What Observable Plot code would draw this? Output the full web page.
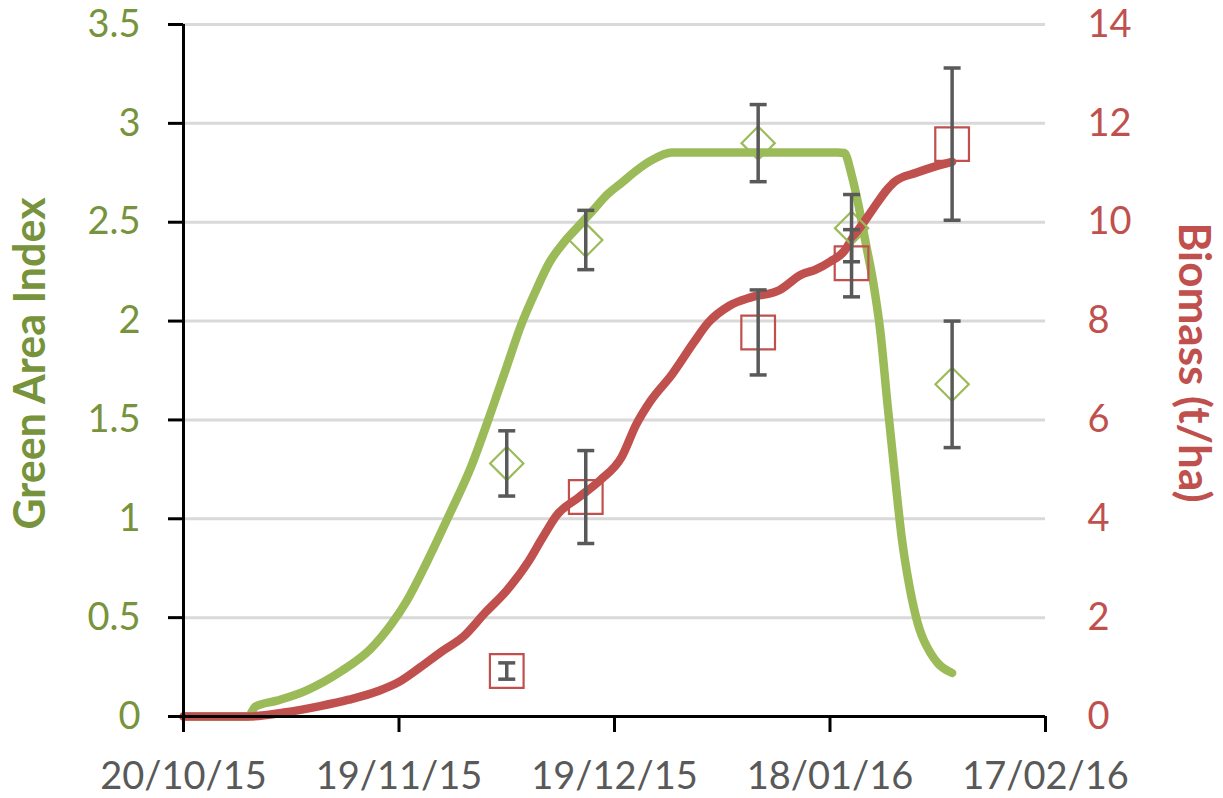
<!DOCTYPE html>
<html><head><meta charset="utf-8">
<script src="https://cdn.jsdelivr.net/npm/d3@7"></script>
<script src="https://cdn.jsdelivr.net/npm/@observablehq/plot@0.6"></script>
<style>body{margin:0;background:#fff;} #chart{width:1223px;height:798px;}</style>
</head><body><div id="chart"></div>
<script>
// ---- data ----
const xTicks = ["2015-10-20", "2015-11-19", "2015-12-19", "2016-01-18", "2016-02-17"];
const gaiTicks = [0, 0.5, 1, 1.5, 2, 2.5, 3, 3.5];
const biomassTicks = [0, 2, 4, 6, 8, 10, 12, 14];

// simulated Green Area Index curve
const gaiCurveDates = ["2015-10-20","2015-10-29","2015-10-30","2015-11-02","2015-11-06","2015-11-11","2015-11-15","2015-11-18","2015-11-20","2015-11-23","2015-11-26","2015-11-29","2015-12-02","2015-12-04","2015-12-06","2015-12-08","2015-12-10","2015-12-12","2015-12-14","2015-12-16","2015-12-18","2015-12-20","2015-12-22","2015-12-24","2015-12-27","2016-01-19","2016-01-20","2016-01-21","2016-01-22","2016-01-23","2016-01-24","2016-01-25","2016-01-26","2016-01-27","2016-01-28","2016-01-29","2016-01-30","2016-02-01","2016-02-02","2016-02-04"];
const gaiCurveValues = [0,0,0.05,0.08,0.13,0.23,0.34,0.47,0.58,0.79,1.02,1.26,1.56,1.77,1.98,2.15,2.30,2.40,2.48,2.56,2.64,2.70,2.76,2.81,2.853,2.853,2.85,2.74,2.58,2.39,2.2,1.95,1.58,1.23,0.9,0.67,0.5,0.32,0.27,0.22];

// simulated biomass curve (t/ha)
const biomassCurveDates = ["2015-10-20","2015-10-29","2015-11-03","2015-11-08","2015-11-12","2015-11-16","2015-11-19","2015-11-22","2015-11-25","2015-11-28","2015-12-01","2015-12-04","2015-12-07","2015-12-09","2015-12-11","2015-12-14","2015-12-17","2015-12-20","2015-12-22","2015-12-24","2015-12-27","2015-12-30","2016-01-01","2016-01-04","2016-01-07","2016-01-11","2016-01-14","2016-01-16","2016-01-18","2016-01-20","2016-01-21","2016-01-23","2016-01-24","2016-01-26","2016-01-27","2016-01-30","2016-02-01","2016-02-04"];
const biomassCurveValues = [0,0,0.08,0.21,0.34,0.51,0.7,1.0,1.32,1.62,2.1,2.55,3.13,3.62,4.08,4.43,4.78,5.25,5.9,6.38,6.92,7.56,7.96,8.31,8.48,8.63,8.94,9.04,9.2,9.42,9.65,10.06,10.27,10.67,10.82,11.0,11.1,11.22];

// observations
const obsDates = ["2015-12-04","2015-12-15","2016-01-08","2016-01-21","2016-02-04"];
const gaiObs = [1.28, 2.41, 2.90, 2.47, 1.68];
const gaiErr = [0.165, 0.15, 0.195, 0.17, 0.32];
const biomassObs = [0.92, 4.44, 7.77, 9.17, 11.58];
const biomassErr = [0.165, 0.94, 0.86, 0.68, 1.54];

// ---- build ----
const parse = d3.utcParse("%Y-%m-%d");
const ratio = biomassTicks[biomassTicks.length - 1] / gaiTicks[gaiTicks.length - 1];
const gaiCurve = gaiCurveDates.map((d, i) => ({date: parse(d), v: gaiCurveValues[i]}));
const bioCurve = biomassCurveDates.map((d, i) => ({date: parse(d), v: biomassCurveValues[i] / ratio}));
const gaiPts = obsDates.map((d, i) => ({date: parse(d), v: gaiObs[i], lo: gaiObs[i] - gaiErr[i], hi: gaiObs[i] + gaiErr[i]}));
const bioPts = obsDates.map((d, i) => ({date: parse(d), v: biomassObs[i] / ratio, lo: (biomassObs[i] - biomassErr[i]) / ratio, hi: (biomassObs[i] + biomassErr[i]) / ratio}));
const errPts = gaiPts.concat(bioPts);
const xTickDates = xTicks.map(parse);

const capSymbol = {draw(ctx) { ctx.moveTo(-8.5, 0); ctx.lineTo(8.5, 0); }};
const GREEN = "#9BBB59", GREEN_TXT = "#77933C", RED = "#C0504D", GREY = "#595959";

const chart = Plot.plot({
  width: 1223, height: 798,
  marginLeft: 183, marginRight: 178, marginTop: 24, marginBottom: 82,
  style: {fontFamily: "Lato, sans-serif", background: "white", overflow: "visible"},
  x: {type: "utc", domain: [xTickDates[0], xTickDates[xTickDates.length - 1]]},
  y: {domain: [gaiTicks[0], gaiTicks[gaiTicks.length - 1]]},
  marks: [
    Plot.gridY(gaiTicks, {stroke: "#D9D9D9", strokeOpacity: 1, strokeWidth: 3}),
    Plot.line(gaiCurve, {x: "date", y: "v", stroke: GREEN, strokeWidth: 8.5, curve: "monotone-x", strokeLinejoin: "round"}),
    Plot.line(bioCurve, {x: "date", y: "v", stroke: RED, strokeWidth: 8.5, curve: "monotone-x", strokeLinecap: "round", strokeLinejoin: "round"}),
    Plot.dot(gaiPts, {x: "date", y: "v", symbol: "diamond2", r: 15, stroke: GREEN, strokeWidth: 2.2, fill: "none"}),
    Plot.dot(bioPts, {x: "date", y: "v", symbol: "square", r: 19, stroke: RED, strokeWidth: 2.2, fill: "none"}),
    Plot.ruleX(errPts, {x: "date", y1: "lo", y2: "hi", stroke: GREY, strokeWidth: 3.5}),
    Plot.dot(errPts, {x: "date", y: "lo", symbol: capSymbol, stroke: GREY, strokeWidth: 3.5}),
    Plot.dot(errPts, {x: "date", y: "hi", symbol: capSymbol, stroke: GREY, strokeWidth: 3.5}),
    Plot.ruleY([gaiTicks[0]], {stroke: "black", strokeWidth: 3}),
    Plot.ruleX([xTickDates[0]], {stroke: "black", strokeWidth: 3}),
    Plot.axisX(xTickDates, {tickFormat: d3.utcFormat("%d/%m/%y"), tickSize: 16, tickPadding: 30, fontSize: 38, fill: GREY, stroke: "black", strokeWidth: 3, label: null}),
    Plot.axisY(gaiTicks, {anchor: "left", tickFormat: d => String(d), tickSize: 15, tickPadding: 28, fontSize: 38, fill: GREEN_TXT, stroke: "black", strokeWidth: 3, label: null}),
    Plot.axisY(biomassTicks.map(b => b / ratio), {anchor: "right", tickFormat: d => String(Math.round(d * ratio)), tickSize: 0, tickPadding: 42, fontSize: 38, fill: RED, label: null}),
    Plot.text(["Green Area Index"], {frameAnchor: "left", textAnchor: "middle", dx: -152, dy: -7, rotate: -90, fontSize: 43, fontWeight: "bold", fill: GREEN_TXT}),
    Plot.text(["Biomass (t/ha)"], {frameAnchor: "right", textAnchor: "middle", dx: 148, dy: -8, rotate: 90, fontSize: 44, fontWeight: "bold", fill: RED})
  ]
});
document.getElementById("chart").appendChild(chart);
</script>
</body></html>
